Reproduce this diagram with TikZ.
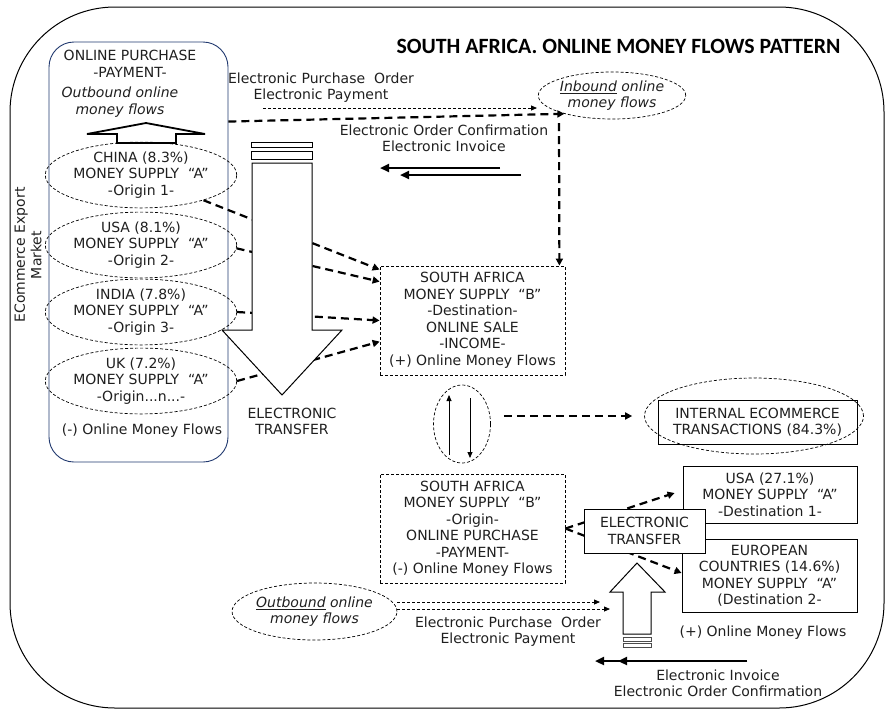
\documentclass[tikz,border=0pt]{standalone}
\usepackage{fontspec}
\setmainfont{DejaVu Sans}
\newfontfamily\titlefont{Carlito}
\usetikzlibrary{shapes.geometric,arrows.meta,calc}
\definecolor{navy}{RGB}{32,56,110}
\begin{document}
\begin{tikzpicture}[x=1pt,y=-1pt,
  every node/.style={font=\fontsize{14}{16.5}\selectfont, align=center, inner sep=0pt, text=black!88},
  itfont/.style={font=\fontsize{14}{16.5}\selectfont\itshape},
  dsh/.style={dash pattern=on 3pt off 2pt, line width=0.7pt},
  cty/.style={ellipse, draw, dsh, minimum width=168pt, minimum height=60pt},
  ell/.style={ellipse, draw, dsh},
  sabox/.style={draw, dsh, line width=0.8pt, minimum width=185pt, minimum height=109pt},
  solidbox/.style={draw, line width=0.8pt, fill=white},
  fat/.style={line width=2.2pt, dash pattern=on 8pt off 5pt, -{Triangle[length=7pt,width=7pt]}},
  thindash/.style={line width=0.8pt, dash pattern=on 3pt off 2pt, -{Triangle[length=6pt,width=5pt]}},
  solidarr/.style={line width=2.2pt, -{Triangle[length=9pt,width=8pt]}},
  thinarr/.style={line width=0.8pt, -{Triangle[length=6pt,width=5pt]}},
  hollow/.style={draw, line width=1pt, fill=white}
]
\useasboundingbox (0,0) rectangle (885,710);

% outer frame
\draw[line width=1pt, rounded corners=105pt] (10,7) rectangle (884,708);

% title
\node[font=\titlefont\bfseries\fontsize{21.8}{26}\selectfont, text=black] (title) at (618.5,46) {SOUTH AFRICA. ONLINE MONEY FLOWS PATTERN};

% side label
\node[rotate=90] (side) at (28,255) {ECommerce Export\\Market};

% blue box
\node[draw=navy, line width=0.9pt, rounded corners=25pt, minimum width=179pt, minimum height=420pt] (bluebox) at (138.5,252) {};
\node (bbhead) at (130,64) {ONLINE PURCHASE\\-PAYMENT-};
\node[itfont] (bbout) at (120,102) {Outbound online\\money flows};
\draw[line width=1.8pt, fill=white] (117,143) -- (117,134) -- (87,134) -- (146,123) -- (205,134) -- (176,134) -- (176,143) -- cycle;

% country ellipses
\node[cty] (china) at (141,175) {CHINA (8.3\%)\\MONEY SUPPLY\ \ “A”\\-Origin 1-};
\node[cty] (usa) at (141,245) {USA (8.1\%)\\MONEY SUPPLY\ \ “A”\\-Origin 2-};
\node[cty] (india) at (141,312) {INDIA (7.8\%)\\MONEY SUPPLY\ \ “A”\\-Origin 3-};
\node[cty] (uk) at (141,381) {UK (7.2\%)\\MONEY SUPPLY\ \ “A”\\-Origin...n...-};
\node (minusflows) at (142,431) {(-) Online Money Flows};

% South Africa destination box
\node[sabox] (sadest) at (472.5,320.5) {SOUTH AFRICA\\MONEY SUPPLY\ \ “B”\\-Destination-\\ONLINE SALE\\-INCOME-\\(+) Online Money Flows};

% dashed arrows from origins
\draw[fat] (china.-22) -- ([yshift=-4pt]sadest.north west);
\draw[fat] (usa.-2) -- ([yshift=-16pt]sadest.north west);
\draw[fat] (india.east) -- (sadest.west);
\draw[fat] (uk.east) -- ([yshift=-76pt]sadest.north west);

% big down arrow
\draw[hollow] (252,163) -- (312,163) -- (312,330) -- (342,330) -- (282,395) -- (222,330) -- (252,330) -- cycle;
\draw[hollow] (251,142) rectangle (312,147);
\draw[hollow] (251,151) rectangle (312,159);
\node (etlabel) at (292,421.5) {ELECTRONIC\\TRANSFER};

% top flows
\node (topord) at (321,87.5) {Electronic Purchase\ \ Order\\Electronic Payment};
\node[ell, itfont, minimum width=127pt, minimum height=47pt] (inbound) at (612,95.5) {\underline{Inbound} online\\money flows};
\coordinate (tp1) at (263,108);
\coordinate (tp2) at (537,108);
\draw[thindash] (tp1) -- (tp2);
\draw[fat] ([yshift=-80pt]bluebox.north east) -- (inbound.201);
\node (topconf) at (444,138.5) {Electronic Order Confirmation\\Electronic Invoice};
\coordinate (sa1) at (500,168);
\coordinate (sa2) at (380,168);
\coordinate (sb1) at (521,175);
\coordinate (sb2) at (400,175);
\draw[solidarr] (sa1) -- (sa2);
\draw[solidarr] (sb1) -- (sb2);
\coordinate (vtop) at (559,123);
\draw[fat] (vtop) -- ([xshift=-6pt]sadest.north east);

% bidirectional ellipse
\node[ell, minimum width=57pt, minimum height=78pt] (bidir) at (462,424) {};
\draw[thinarr] ([shift={(-13pt,-31pt)}]bidir.center) -- ([shift={(-13pt,29pt)}]bidir.center);
\draw[thinarr] ([shift={(8pt,26pt)}]bidir.center) -- ([shift={(8pt,-34pt)}]bidir.center);

% internal ecommerce
\node[ell, minimum width=219pt, minimum height=76pt] (intell) at (754,416) {};
\node[draw, line width=0.8pt, minimum width=199pt, minimum height=44pt] (internal) at (757.5,422) {INTERNAL ECOMMERCE\\TRANSACTIONS (84.3\%)};
\draw[fat] ([xshift=13pt]bidir.east |- intell.west) -- ([xshift=-12pt]intell.west);

% South Africa origin box
\node[sabox] (saorig) at (472.5,528.5) {SOUTH AFRICA\\MONEY SUPPLY\ \ “B”\\-Origin-\\ONLINE PURCHASE\\-PAYMENT-\\(-) Online Money Flows};

% destination boxes
\node[draw, line width=0.8pt, minimum width=174pt, minimum height=57pt] (usadest) at (770,494.5) {USA (27.1\%)\\MONEY SUPPLY\ \ “A”\\-Destination 1-};
\node[draw, line width=0.8pt, minimum width=175pt, minimum height=73pt] (eudest) at (769.5,575.5) {EUROPEAN\\COUNTRIES (14.6\%)\\MONEY SUPPLY\ \ “A”\\(Destination 2-};
\node (plusflows) at (763,633) {(+) Online Money Flows};

\draw[fat] (saorig.east) -- ([shift={(-8pt,1.5pt)}]usadest.west);
\draw[fat] (saorig.east) -- ([yshift=2.5pt]eudest.west);

\node[solidbox, minimum width=121pt, minimum height=44pt] (etbox) at (644.5,531) {ELECTRONIC\\TRANSFER};

% up arrow
\draw[hollow] (637,563) -- (665,592) -- (651,592) -- (651,634) -- (623,634) -- (623,592) -- (610,592) -- cycle;
\draw[line width=0.8pt, draw=black!70, fill=white] (623,637) rectangle (651,641);
\draw[line width=0.8pt, draw=black!70, fill=white] (623,643) rectangle (651,647);

% bottom flows
\node[ell, itfont, minimum width=145pt, minimum height=57pt] (outb) at (314.5,611.5) {\underline{Outbound} online\\money flows};
\coordinate (bp1) at (600,602);
\coordinate (bp2) at (610,609);
\draw[thindash] ([yshift=9.5pt]outb.east) -- (bp1);
\draw[thindash] ([yshift=2.5pt]outb.east) -- (bp2);
\node (botord) at (508,631.5) {Electronic Purchase\ \ Order\\Electronic Payment};
\coordinate (ba0) at (747,661);
\coordinate (ba1) at (595,661);
\coordinate (ba2) at (618,661);
\draw[solidarr] (ba0) -- (ba1);
\draw[solidarr] (ba0) -- (ba2);
\node (botconf) at (718,683.5) {Electronic Invoice\\Electronic Order Confirmation};
\end{tikzpicture}
\end{document}
